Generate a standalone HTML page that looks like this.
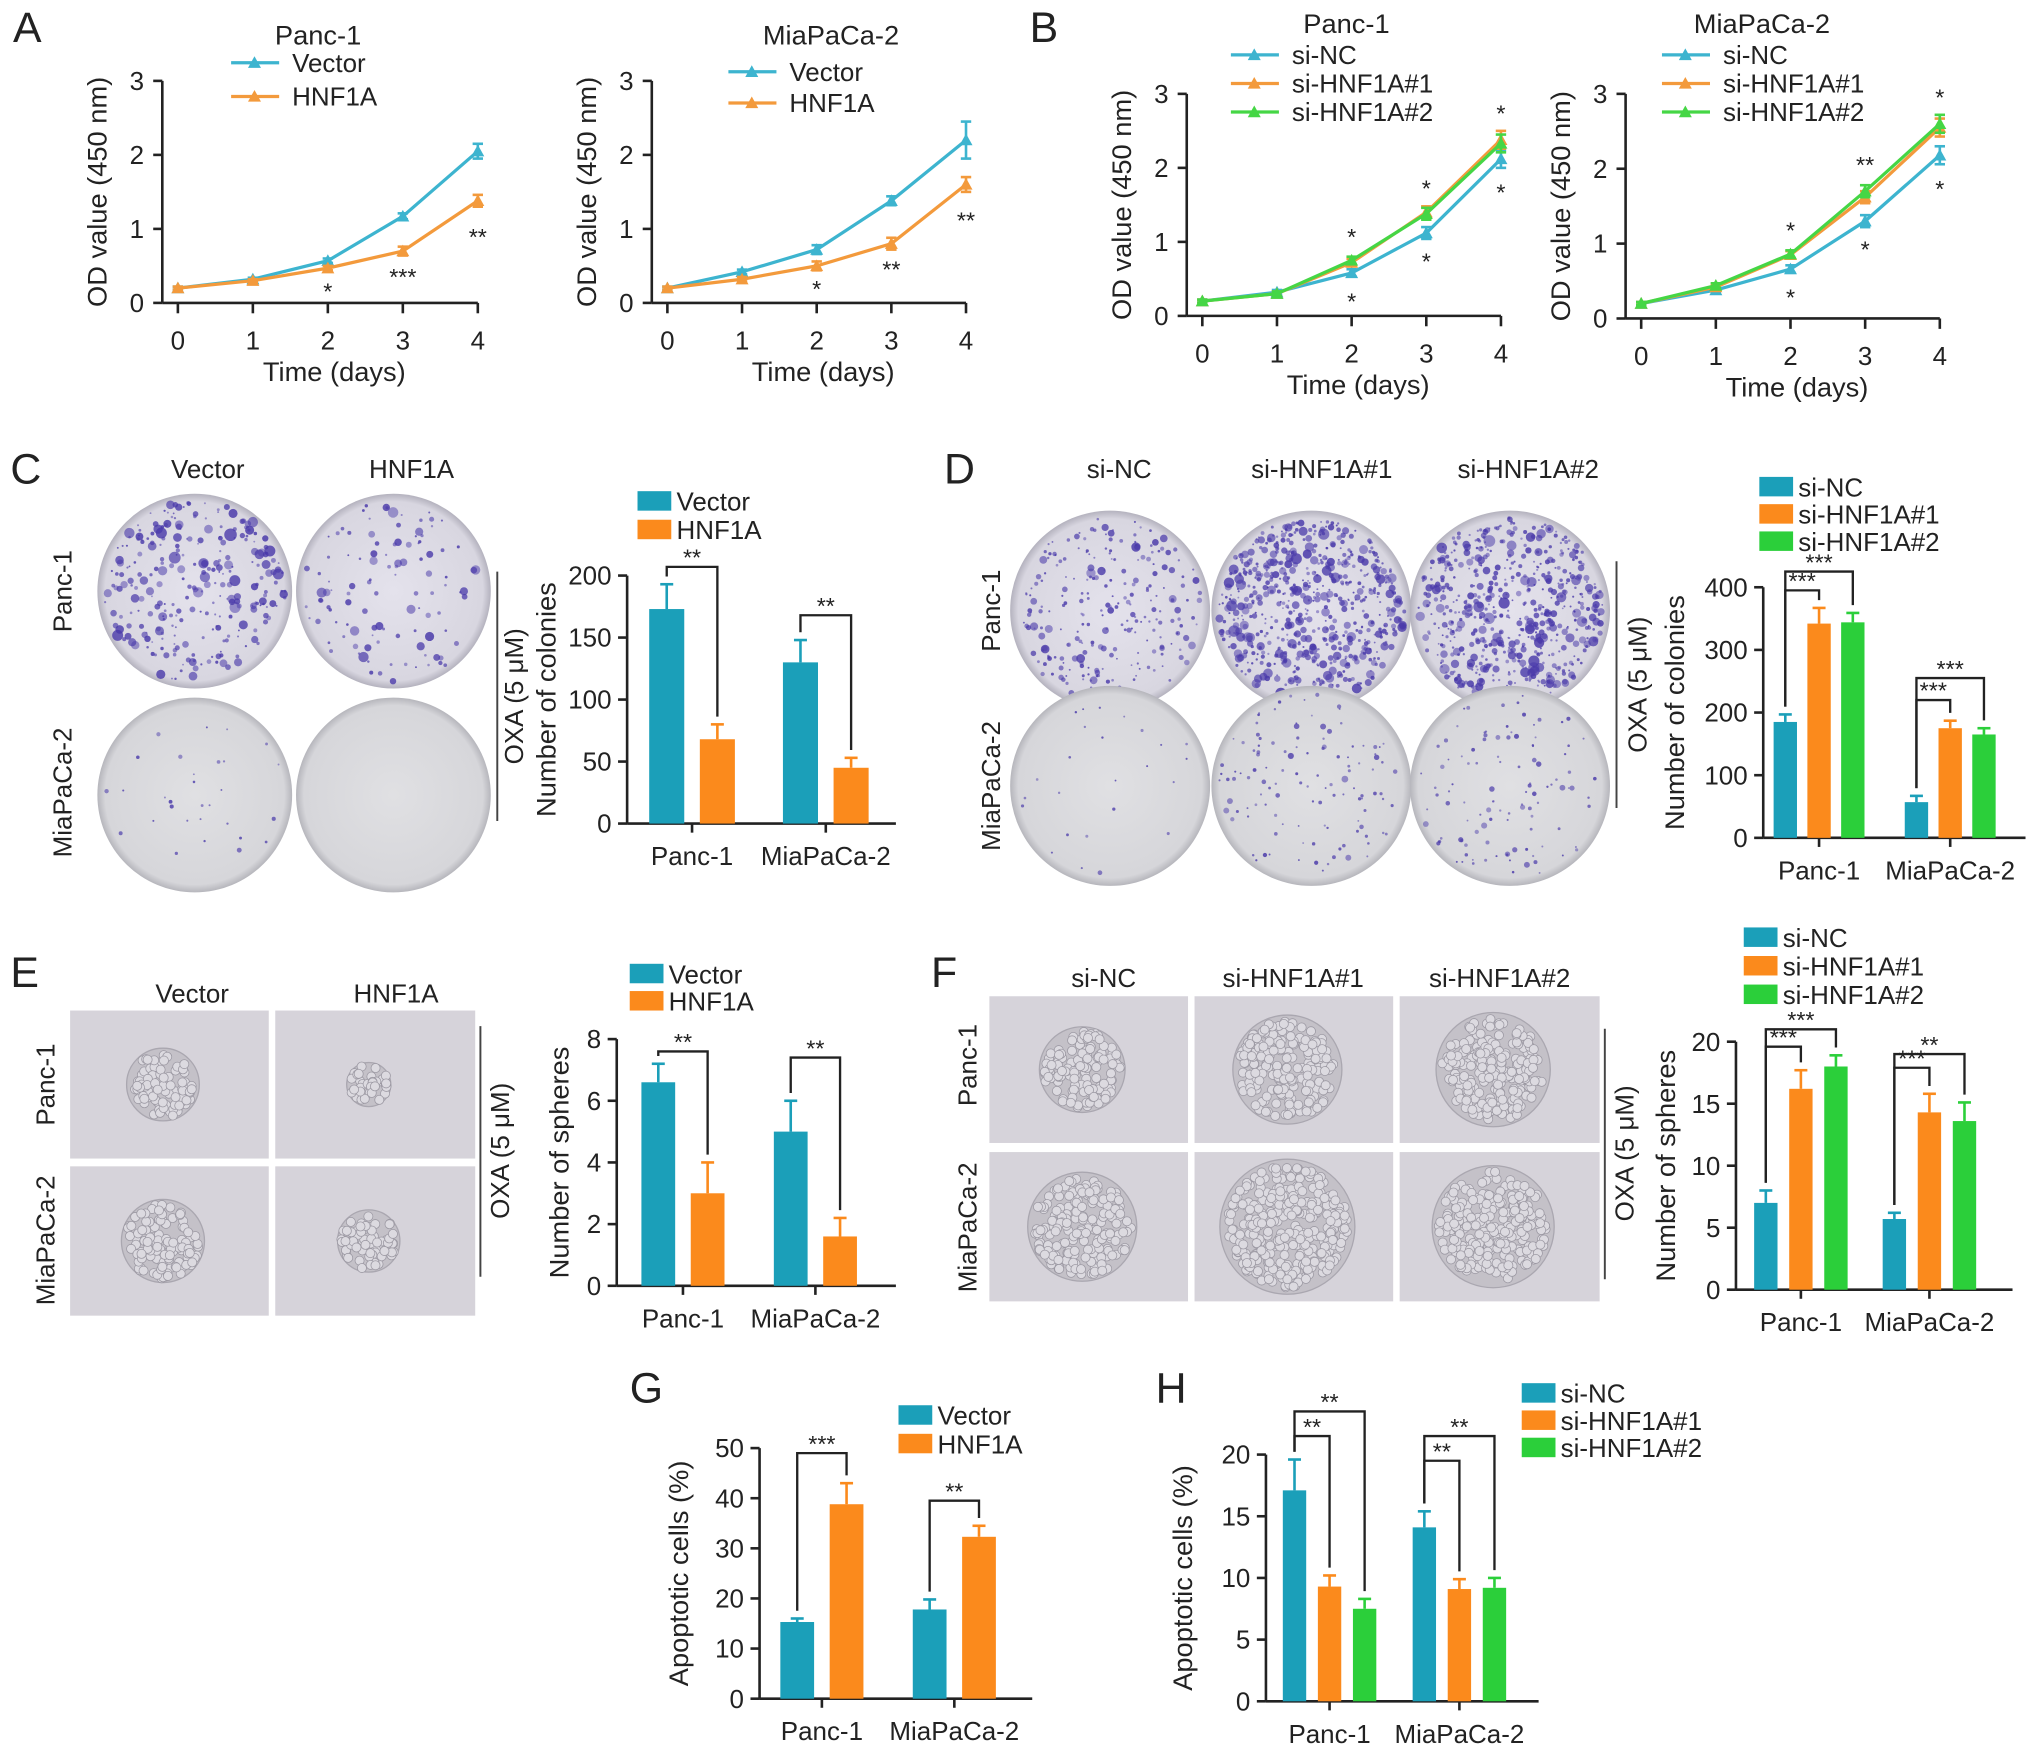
<!DOCTYPE html>
<html><head><meta charset="utf-8"><style>
html,body{margin:0;padding:0;background:#fff}
svg{display:block}
text{font-family:"Liberation Sans",sans-serif;fill:#222}
</style></head><body>
<svg id="fig" width="2032" height="1751" viewBox="0 0 1565 1348" xmlns="http://www.w3.org/2000/svg">
<defs>
<radialGradient id="plateC1" cx="50%" cy="50%" r="50%"><stop offset="0" stop-color="#e4e2ec"/><stop offset="0.92" stop-color="#d8d6e0"/><stop offset="1" stop-color="#b4b2be"/></radialGradient>
<radialGradient id="plateC2" cx="50%" cy="50%" r="50%"><stop offset="0" stop-color="#e0e0e3"/><stop offset="0.92" stop-color="#d6d6da"/><stop offset="1" stop-color="#b6b6bc"/></radialGradient>
</defs>
<g id="root"></g>
</svg>
<script>
// ---------- data ----------
var days=[0,1,2,3,4];
var a1Vector=[0.2,0.32,0.57,1.17,2.05], a1Hnf=[0.2,0.3,0.47,0.7,1.38];
var a1VecErr=[0.02,0.02,0.03,0.04,0.1], a1HnfErr=[0.02,0.02,0.03,0.06,0.08];
var a2Vector=[0.2,0.42,0.72,1.38,2.2], a2Hnf=[0.2,0.32,0.5,0.8,1.6];
var a2VecErr=[0.02,0.03,0.06,0.06,0.25], a2HnfErr=[0.02,0.03,0.06,0.08,0.1];
var b1NC=[0.2,0.32,0.58,1.12,2.12], b1S1=[0.2,0.3,0.72,1.4,2.38], b1S2=[0.2,0.3,0.75,1.38,2.33];
var b2NC=[0.2,0.38,0.66,1.3,2.18], b2S1=[0.2,0.42,0.85,1.62,2.55], b2S2=[0.2,0.44,0.86,1.7,2.6];
var bErr=[0.02,0.03,0.05,0.08,0.12];
var yTicks3=[0,1,2,3];
var cats=["Panc-1","MiaPaCa-2"];
var cVector=[173,130], cHnf=[68,45], cVecErr=[20,18], cHnfErr=[12,8];
var cTicks=[0,50,100,150,200];
var dNC=[185,57], dS1=[342,175], dS2=[344,165], dNCErr=[12,10], dS1Err=[25,12], dS2Err=[15,10];
var dTicks=[0,100,200,300,400];
var eVector=[6.6,5.0], eHnf=[3.0,1.6], eVecErr=[0.6,1.0], eHnfErr=[1.0,0.6];
var eTicks=[0,2,4,6,8];
var fNC=[7.0,5.7], fS1=[16.2,14.3], fS2=[18.0,13.6], fNCErr=[1.0,0.5], fS1Err=[1.5,1.5], fS2Err=[0.9,1.5];
var fTicks=[0,5,10,15,20];
var gVector=[15.3,17.8], gHnf=[38.8,32.3], gVecErr=[0.7,2.0], gHnfErr=[4.2,2.2];
var gTicks=[0,10,20,30,40,50];
var hNC=[17.1,14.1], hS1=[9.3,9.1], hS2=[7.5,9.2], hNCErr=[2.5,1.3], hS1Err=[0.9,0.8], hS2Err=[0.8,0.8];
var hTicks=[0,5,10,15,20];

var TEAL="#1b9fb9", ORANGE="#fb8a1c", GREEN="#2bcf3a", LTEAL="#3db4cf", LORANGE="#f39a3c", LGREEN="#45d645";
var NS="http://www.w3.org/2000/svg", root=document.getElementById('root');
function mk(tag,attrs,parent,txt){var e=document.createElementNS(NS,tag);for(var k in attrs)e.setAttribute(k,attrs[k]);if(txt!==undefined)e.textContent=txt;(parent||root).appendChild(e);return e;}
function grp(name,parent){var g=mk('g',{},parent);return g;}
function txt(g,x,y,s,size,anchor,rot,name){var a={x:x,y:y,'font-size':size,'text-anchor':anchor||'middle'};if(rot)a.transform='rotate(-90 '+x+' '+y+')';var t=mk('text',a,g,s);return t;}
function line(g,x1,y1,x2,y2,c,w){return mk('line',{x1:x1,y1:y1,x2:x2,y2:y2,stroke:c||'#222','stroke-width':w||2},g);}

[["A",10,32],["B",793,32],["C",8,372],["D",727,372],["E",8,760],["F",717,760],["G",485,1080],["H",890,1080]].forEach(function(p){var t=txt(root,p[1],p[2],p[0],33,'start');});

// ---------- line charts ----------
function lineChart(name,o){
  var g=grp(name);
  var xs=function(d){return o.x0+(o.x4-o.x0)*d/4;}, ys=function(v){return o.y0-(o.y0-o.y3)*v/3;};
  var ax=o.x0-12;
  line(g,ax,o.y3,ax,o.y0);line(g,ax,o.y0,o.x4,o.y0);
  yTicks3.forEach(function(t){line(g,ax-7,ys(t),ax,ys(t));txt(g,ax-14,ys(t)+7,String(t),20,'end',0,'y-tick');});
  days.forEach(function(d){line(g,xs(d),o.y0,xs(d),o.y0+8);txt(g,xs(d),o.y0+36,String(d),20,'middle',0,'x-tick');});
  txt(g,(o.x0+o.x4)/2+5,o.y0+60,"Time (days)",21,'middle',0,'x-axis-title');
  txt(g,ax-43,(o.y0+o.y3)/2,"OD value (450 nm)",21,'middle',1,'y-axis-title');
  txt(g,o.titleX,o.titleY,o.title,21,'middle',0,'chart-title');
  o.series.forEach(function(s,si){
    var sg=grp('series-'+s.name.toLowerCase().replace(/[^a-z0-9]+/g,'-'),g);
    var pts=s.vals.map(function(v,i){return xs(i)+','+ys(v);}).join(' ');
    mk('polyline',{points:pts,fill:'none',stroke:s.color,'stroke-width':2.5},sg);
    s.vals.forEach(function(v,i){var x=xs(i),y=ys(v),e=s.err[i];
      line(sg,x,ys(v+e),x,ys(v-e),s.color,2);line(sg,x-4,ys(v+e),x+4,ys(v+e),s.color,2);line(sg,x-4,ys(v-e),x+4,ys(v-e),s.color,2);
      var p=mk('path',{d:'M'+x+' '+(y-5)+'L'+(x+5)+' '+(y+4)+'L'+(x-5)+' '+(y+4)+'Z',fill:s.color},sg);
      });
    var ly=o.legY+si*o.legDy;
    var lg=grp('legend-entry',g);
    line(lg,o.legX,ly,o.legX+37,ly,s.color,2.5);
    mk('path',{d:'M'+(o.legX+18)+' '+(ly-5)+'L'+(o.legX+23)+' '+(ly+4)+'L'+(o.legX+13)+' '+(ly+4)+'Z',fill:s.color},lg);
    txt(lg,o.legX+47,ly+7,s.name,20,'start',0,'legend-label');
  });
  (o.stars||[]).forEach(function(st){txt(g,xs(st[0]),ys(st[1])+st[3],st[2],18,'middle',0,'significance');});
}
lineChart('chart-a-panc1',{x0:137,x4:368,y0:233,y3:62,title:"Panc-1",titleX:245,titleY:34,legX:178,legY:48,legDy:26,
 series:[{name:"Vector",vals:a1Vector,err:a1VecErr,color:LTEAL},{name:"HNF1A",vals:a1Hnf,err:a1HnfErr,color:LORANGE}],
 stars:[[2,a1Hnf[2],"*",24],[3,a1Hnf[3],"***",26],[4,a1Hnf[4],"**",34]]});
lineChart('chart-a-miapaca2',{x0:514,x4:744,y0:233,y3:62,title:"MiaPaCa-2",titleX:640,titleY:34,legX:561,legY:55,legDy:24,
 series:[{name:"Vector",vals:a2Vector,err:a2VecErr,color:LTEAL},{name:"HNF1A",vals:a2Hnf,err:a2HnfErr,color:LORANGE}],
 stars:[[2,a2Hnf[2],"*",24],[3,a2Hnf[3],"**",26],[4,a2Hnf[4],"**",34]]});
lineChart('chart-b-panc1',{x0:926,x4:1156,y0:243,y3:72,title:"Panc-1",titleX:1037,titleY:25,legX:948,legY:42,legDy:22,
 series:[{name:"si-NC",vals:b1NC,err:bErr,color:LTEAL},{name:"si-HNF1A#1",vals:b1S1,err:bErr,color:LORANGE},{name:"si-HNF1A#2",vals:b1S2,err:bErr,color:LGREEN}],
 stars:[[2,b1S2[2],"*",-12],[3,b1S1[3],"*",-12],[4,b1S1[4],"*",-14],[2,b1NC[2],"*",28],[3,b1NC[3],"*",28],[4,b1NC[4],"*",32]]});
lineChart('chart-b-miapaca2',{x0:1264,x4:1494,y0:245,y3:72,title:"MiaPaCa-2",titleX:1357,titleY:25,legX:1280,legY:42,legDy:22,
 series:[{name:"si-NC",vals:b2NC,err:bErr,color:LTEAL},{name:"si-HNF1A#1",vals:b2S1,err:bErr,color:LORANGE},{name:"si-HNF1A#2",vals:b2S2,err:bErr,color:LGREEN}],
 stars:[[2,b2S2[2],"*",-12],[3,b2S2[3],"**",-14],[4,b2S2[4],"*",-14],[2,b2NC[2],"*",28],[3,b2NC[3],"*",28],[4,b2NC[4],"*",32]]});

// ---------- bar charts ----------
function barChart(name,o){
  var g=grp(name);
  var max=o.ticks[o.ticks.length-1];
  var ys=function(v){return o.y0-(o.y0-o.yTop)*v/max;};
  line(g,o.ax,o.yTop,o.ax,o.y0);line(g,o.ax,o.y0,o.xEnd,o.y0);
  o.ticks.forEach(function(t){line(g,o.ax-7,ys(t),o.ax,ys(t));txt(g,o.ax-12,ys(t)+7,String(t),20,'end',0,'y-tick');});
  txt(g,o.ylx,(o.y0+o.yTop)/2,o.ylabel,21,'middle',1,'y-axis-title');
  var tops=[];
  cats.forEach(function(c,ci){
    var cx=o.catX[ci];
    txt(g,cx,o.y0+32,c,20,'middle',0,'x-tick');
    line(g,cx,o.y0,cx,o.y0+7);
    tops[ci]=[];
    o.series.forEach(function(s,si){
      var n=o.series.length,x=cx-(n*o.bw+(n-1)*o.gap)/2+si*(o.bw+o.gap),v=s.vals[ci],e=s.err[ci];
      var r=mk('rect',{x:x,y:ys(v),width:o.bw,height:o.y0-ys(v),fill:s.color},g);
      
      
      var mx=x+o.bw/2;
      line(g,mx,ys(v),mx,ys(v+e),s.color,2);line(g,mx-5,ys(v+e),mx+5,ys(v+e),s.color,2);
      tops[ci].push([mx,ys(v+e)]);
    });
  });
  o.series.forEach(function(s,si){
    var lg=grp('legend-entry',g),ly=o.legY+si*o.legDy;
    mk('rect',{x:o.legX,y:ly-8,width:26,height:15,fill:s.color},lg);
    txt(lg,o.legX+30,ly+7,s.name,20,'start',0,'legend-label');
  });
  (o.brackets||[]).forEach(function(b){
    var ci=b[0],a=tops[ci][0],t=tops[ci][b[1]],yb=ys(b[2]);
    var bg=grp('significance-bracket',g);
    mk('polyline',{points:a[0]+','+(a[1]-6)+' '+a[0]+','+yb+' '+t[0]+','+yb+' '+t[0]+','+(t[1]-6),fill:'none',stroke:'#222','stroke-width':1.8},bg);
    txt(bg,(a[0]+t[0])/2,yb-1,b[3],18,'middle',0,'significance');
  });
}
barChart('chart-c-colonies',{ax:483,y0:634,yTop:443,xEnd:690,ticks:cTicks,ylabel:"Number of colonies",ylx:428,catX:[533,636],bw:27,gap:12,legX:491,legY:386,legDy:22,
 series:[{name:"Vector",vals:cVector,err:cVecErr,color:TEAL},{name:"HNF1A",vals:cHnf,err:cHnfErr,color:ORANGE}],
 brackets:[[0,1,207,"**"],[1,1,168,"**"]]});
barChart('chart-d-colonies',{ax:1358,y0:645,yTop:452,xEnd:1560,ticks:dTicks,ylabel:"Number of colonies",ylx:1297,catX:[1401,1502],bw:18,gap:8,legX:1355,legY:375,legDy:21,
 series:[{name:"si-NC",vals:dNC,err:dNCErr,color:TEAL},{name:"si-HNF1A#1",vals:dS1,err:dS1Err,color:ORANGE},{name:"si-HNF1A#2",vals:dS2,err:dS2Err,color:GREEN}],
 brackets:[[0,1,395,"***"],[0,2,425,"***"],[1,1,220,"***"],[1,2,255,"***"]]});
barChart('chart-e-spheres',{ax:475,y0:990,yTop:800,xEnd:690,ticks:eTicks,ylabel:"Number of spheres",ylx:438,catX:[526,628],bw:26,gap:12,legX:485,legY:750,legDy:21,
 series:[{name:"Vector",vals:eVector,err:eVecErr,color:TEAL},{name:"HNF1A",vals:eHnf,err:eHnfErr,color:ORANGE}],
 brackets:[[0,1,7.6,"**"],[1,1,7.4,"**"]]});
barChart('chart-f-spheres',{ax:1337,y0:993,yTop:802,xEnd:1550,ticks:fTicks,ylabel:"Number of spheres",ylx:1290,catX:[1387,1486],bw:18,gap:9,legX:1343,legY:722,legDy:22,
 series:[{name:"si-NC",vals:fNC,err:fNCErr,color:TEAL},{name:"si-HNF1A#1",vals:fS1,err:fS1Err,color:ORANGE},{name:"si-HNF1A#2",vals:fS2,err:fS2Err,color:GREEN}],
 brackets:[[0,1,19.6,"***"],[0,2,21,"***"],[1,1,17.9,"***"],[1,2,19,"**"]]});
barChart('chart-g-apoptosis',{ax:585,y0:1308,yTop:1115,xEnd:795,ticks:gTicks,ylabel:"Apoptotic cells (%)",ylx:530,catX:[633,735],bw:26,gap:12,legX:692,legY:1090,legDy:22,
 series:[{name:"Vector",vals:gVector,err:gVecErr,color:TEAL},{name:"HNF1A",vals:gHnf,err:gHnfErr,color:ORANGE}],
 brackets:[[0,1,49,"***"],[1,1,39.5,"**"]]});
barChart('chart-h-apoptosis',{ax:975,y0:1310,yTop:1120,xEnd:1185,ticks:hTicks,ylabel:"Apoptotic cells (%)",ylx:918,catX:[1024,1124],bw:18,gap:9,legX:1172,legY:1073,legDy:21,
 series:[{name:"si-NC",vals:hNC,err:hNCErr,color:TEAL},{name:"si-HNF1A#1",vals:hS1,err:hS1Err,color:ORANGE},{name:"si-HNF1A#2",vals:hS2,err:hS2Err,color:GREEN}],
 brackets:[[0,1,21.5,"**"],[0,2,23.5,"**"],[1,1,19.5,"**"],[1,2,21.5,"**"]]});

// ---------- photos (decorative) ----------
var seed=7;function rnd(){seed=(seed*16807)%2147483647;return seed/2147483647;}
function plate(name,cx,cy,r,grad,n,big){
  var g=grp(name);
  mk('circle',{cx:cx,cy:cy,r:r,fill:'url(#'+grad+')'},g);
  for(var i=0;i<n;i++){var a=rnd()*6.283,d=Math.sqrt(rnd())*r*0.93;
    mk('circle',{cx:cx+Math.cos(a)*d,cy:cy+Math.sin(a)*d,r:0.7+rnd()*rnd()*big,fill:'#4a3aaa','fill-opacity':0.45+rnd()*0.4},g);}
}
function side(g,x,y,s){txt(g,x,y,s,20,'middle',1,'row-label');}
var pc=grp('plates-c');
txt(pc,160,368,"Vector",20,'middle',0,'column-label');txt(pc,317,368,"HNF1A",20,'middle',0,'column-label');
side(pc,55,455,"Panc-1");side(pc,55,610,"MiaPaCa-2");
plate('plate-c-panc1-vector',150,455,75,'plateC1',280,4.5);
plate('plate-c-panc1-hnf1a',303,455,75,'plateC1',110,4);
plate('plate-c-mia-vector',150,612,75,'plateC2',30,1.5);
plate('plate-c-mia-hnf1a',303,612,75,'plateC2',0,1);
line(pc,383,440,383,632,'#444',1.5);txt(pc,403,536,"OXA (5 μM)",20,'middle',1,'treatment-label');
var pd=grp('plates-d');
[["si-NC",862],["si-HNF1A#1",1018],["si-HNF1A#2",1177]].forEach(function(l){txt(pd,l[1],368,l[0],20,'middle',0,'column-label');});
side(pd,770,470,"Panc-1");side(pd,770,605,"MiaPaCa-2");
plate('plate-d-panc1-sinc',855,470,77,'plateC1',250,3.2);
plate('plate-d-panc1-si1',1010,470,77,'plateC1',650,4);
plate('plate-d-panc1-si2',1163,470,77,'plateC1',600,4);
plate('plate-d-mia-sinc',855,605,77,'plateC2',25,1.5);
plate('plate-d-mia-si1',1010,605,77,'plateC2',120,2);
plate('plate-d-mia-si2',1163,605,77,'plateC2',110,2);
line(pd,1245,432,1245,622,'#444',1.5);txt(pd,1268,527,"OXA (5 μM)",20,'middle',1,'treatment-label');
function micro(name,x,y,w,h,sr){
  var g=grp(name);
  mk('rect',{x:x,y:y,width:w,height:h,fill:'#d6d3da'},g);
  var cx=x+w/2-5,cy=y+h/2;
  mk('circle',{cx:cx,cy:cy,r:sr,fill:'#c4c1c8',stroke:'#aaa7b0','stroke-width':1},g);
  for(var i=0;i<sr*sr/9;i++){var a=rnd()*6.283,d=Math.sqrt(rnd())*sr*0.9;
    mk('circle',{cx:cx+Math.cos(a)*d,cy:cy+Math.sin(a)*d,r:3.5,fill:'#dcdae0',stroke:'#9c99a3','stroke-width':0.6},g);}
}
var pe=grp('spheres-e');
txt(pe,148,772,"Vector",20,'middle',0,'column-label');txt(pe,305,772,"HNF1A",20,'middle',0,'column-label');
side(pe,42,835,"Panc-1");side(pe,42,955,"MiaPaCa-2");
micro('photo-e-panc1-vector',54,778,153,114,28);micro('photo-e-panc1-hnf1a',212,778,154,114,17);
micro('photo-e-mia-vector',54,898,153,115,32);micro('photo-e-mia-hnf1a',212,898,154,115,24);
line(pe,177,880,199,880,'#111',2.5);
line(pe,370,790,370,983,'#444',1.5);txt(pe,392,886,"OXA (5 μM)",20,'middle',1,'treatment-label');
var pf=grp('spheres-f');
[["si-NC",850],["si-HNF1A#1",996],["si-HNF1A#2",1155]].forEach(function(l){txt(pf,l[1],760,l[0],20,'middle',0,'column-label');});
side(pf,752,820,"Panc-1");side(pf,752,945,"MiaPaCa-2");
micro('photo-f-panc1-sinc',762,767,153,113,33);micro('photo-f-panc1-si1',920,767,153,113,42);micro('photo-f-panc1-si2',1078,767,154,113,44);
micro('photo-f-mia-sinc',762,887,153,115,42);micro('photo-f-mia-si1',920,887,153,115,52);micro('photo-f-mia-si2',1078,887,154,115,47);
line(pf,880,868,910,868,'#111',2.5);
line(pf,1236,792,1236,985,'#444',1.5);txt(pf,1258,888,"OXA (5 μM)",20,'middle',1,'treatment-label');
</script>
</body></html>
